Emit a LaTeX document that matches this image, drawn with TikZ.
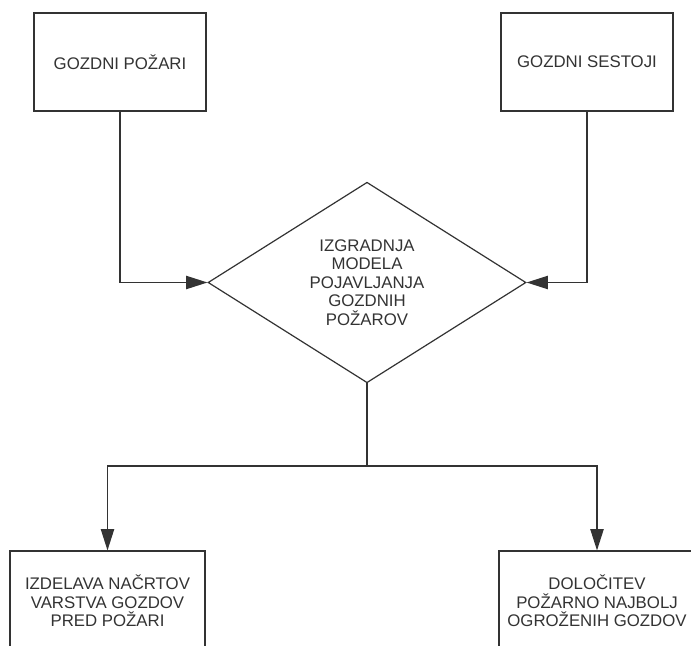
\documentclass[tikz,border=0pt]{standalone}
\usepackage{fontspec}
\setmainfont{Liberation Sans}
\usetikzlibrary{shapes.geometric,arrows.meta}
\definecolor{ink}{HTML}{333333}
\begin{document}
\begin{tikzpicture}[x=0.75pt,y=-0.75pt,
  box/.style={draw=ink,line width=0.9pt,inner sep=0pt,align=center,
    font=\fontsize{12.6}{13.9}\selectfont,text=ink},
  conn/.style={draw=ink,line width=0.9pt},
  arr/.style={conn,-{Triangle[length=16pt,width=10pt]}}]
\useasboundingbox (0,0) rectangle (691,645);
\clip (0,0) rectangle (691,645);
\fill[white] (0,0) rectangle (691,645);
\node[box,minimum width=129pt,minimum height=73.5pt] (b1) at (120,62) {GOZDNI POŽARI};
\node[box,minimum width=129pt,minimum height=73.5pt] (b2) at (587,62) {GOZDNI SESTOJI};
\node[box,diamond,minimum width=238.5pt,minimum height=146.25pt] (d) at (367,282.5)
  {IZGRADNJA\\MODELA\\POJAVLJANJA\\GOZDNIH\\POŽAROV};
\node[box,minimum width=146.25pt,minimum height=75pt] (b3) at (107.5,601)
  {IZDELAVA NAČRTOV\\VARSTVA GOZDOV\\PRED POŽARI};
\node[box,minimum width=147pt,minimum height=75pt] (b4) at (597,601)
  {DOLOČITEV\\POŽARNO NAJBOLJ\\OGROŽENIH GOZDOV};
\coordinate (j) at (367,466);
\draw[arr] (b1.south) |- (d.west);
\draw[arr] (b2.south) |- (d.east);
\draw[conn] (d.south) -- (j);
\draw[arr] (j) -| (b3.north);
\draw[arr] (j) -| (b4.north);
\end{tikzpicture}
\end{document}
